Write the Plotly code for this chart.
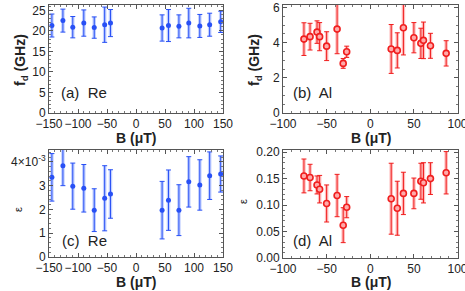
import plotly.graph_objects as go

# ---- data ----
re_B = [-145, -126, -109, -90, -72, -54, -44, 45, 56, 74, 91, 110, 127, 146]
re_fd = [21.3, 22.5, 20.9, 21.9, 20.8, 21.5, 21.9, 20.7, 21.3, 21.1, 21.9, 21.2, 21.5, 22.2]
re_fd_err = [2.8, 2.8, 2.6, 3.2, 2.6, 4.3, 3.3, 3.2, 3.9, 2.8, 3.6, 2.8, 2.8, 2.6]
re_eps = [3.35e-3, 3.84e-3, 2.98e-3, 2.89e-3, 1.97e-3, 2.47e-3, 2.65e-3,
          1.97e-3, 2.39e-3, 1.97e-3, 3.16e-3, 3.03e-3, 3.42e-3, 3.49e-3]
re_eps_err = [1.0e-3, 0.84e-3, 0.97e-3, 1.0e-3, 0.9e-3, 1.37e-3, 1.02e-3,
              1.21e-3, 1.27e-3, 1.07e-3, 1.06e-3, 1.06e-3, 1.0e-3, 0.76e-3]

al_B = [-76, -69, -61, -58, -50, -38, -31, -27, 24, 31, 38, 50, 58, 61, 69, 87]
al_fd = [4.2, 4.34, 4.6, 4.34, 3.8, 4.77, 2.82, 3.48, 3.64, 3.56, 4.85, 4.28, 3.96, 4.13, 3.82, 3.39]
al_fd_err = [0.93, 0.76, 0.64, 0.8, 0.82, 1.4, 0.28, 0.32, 1.39, 1.0, 1.55, 0.86, 0.86, 1.04, 0.71, 0.72]
al_eps = [0.155, 0.152, 0.138, 0.130, 0.103, 0.118, 0.062, 0.096,
          0.112, 0.094, 0.122, 0.122, 0.145, 0.142, 0.150, 0.161]
al_eps_err = [0.032, 0.025, 0.017, 0.026, 0.035, 0.040, 0.033, 0.020,
              0.067, 0.051, 0.040, 0.029, 0.034, 0.038, 0.030, 0.040]

re_x_ticks = [-150, -100, -50, 0, 50, 100, 150]
al_x_ticks = [-100, -50, 0, 50, 100]
re_fd_ticks = [0, 5, 10, 15, 20, 25]
al_fd_ticks = [0, 2, 4, 6]
re_eps_ticks = [0, 1e-3, 2e-3, 3e-3, 4e-3]
re_eps_ticktext = ["0", "1", "2", "3", "4×10<sup>-3</sup>"]
al_eps_ticks = [0, 0.05, 0.10, 0.15, 0.20]

panel_labels = ["(a)  Re", "(b)  Al", "(c)  Re", "(d)  Al"]

W, H = 465, 291
BLUE = "rgb(40,80,245)"
BLUE_L = "rgba(120,150,255,0.45)"
RED = "rgb(240,30,30)"
RED_L = "rgba(255,110,110,0.45)"

fig = go.Figure()

def add_series(x, y, err, xa, ya, blue):
    col = BLUE if blue else RED
    colL = BLUE_L if blue else RED_L
    # light wide band
    fig.add_trace(go.Scatter(x=x, y=y, mode="markers", xaxis=xa, yaxis=ya,
                             marker=dict(size=1, color="rgba(0,0,0,0)"),
                             error_y=dict(type="data", array=err, color=colL,
                                          thickness=3.5, width=0),
                             showlegend=False, hoverinfo="skip"))
    if blue:
        mk = dict(size=5, color=col, symbol="circle", line=dict(width=0))
    else:
        mk = dict(size=6, color="rgb(255,170,170)", symbol="circle",
                  line=dict(width=1.6, color=col))
    fig.add_trace(go.Scatter(x=x, y=y, mode="markers", xaxis=xa, yaxis=ya,
                             marker=mk,
                             error_y=dict(type="data", array=err, color=col,
                                          thickness=1, width=2.5),
                             showlegend=False))

add_series(re_B, re_fd, re_fd_err, "x", "y", True)
add_series(al_B, al_fd, al_fd_err, "x2", "y2", False)
add_series(re_B, re_eps, re_eps_err, "x3", "y3", True)
add_series(al_B, al_eps, al_eps_err, "x4", "y4", False)

def px_dom_x(a, b):
    return [a / W, b / W]

def px_dom_y(top, bot):
    return [1 - bot / H, 1 - top / H]

ax_common = dict(showline=True, linecolor="#555", linewidth=1, mirror="allticks",
                 ticks="inside", ticklen=4, tickcolor="#555", showgrid=False,
                 zeroline=False, tickangle=0, automargin=False,
                 ticklabeloverflow="allow",
                 tickfont=dict(family="Liberation Sans, Arial", size=12, color="#222"),
                 minor=dict(ticks="inside", ticklen=2, tickcolor="#777", showgrid=False))

lay = {}
lay["xaxis"] = dict(ax_common, domain=px_dom_x(49, 223), range=[-150, 150], anchor="y",
                    tickvals=re_x_ticks, minor=dict(ax_common["minor"], dtick=10))
lay["yaxis"] = dict(ax_common, domain=px_dom_y(5, 113), range=[0, 26.3], anchor="x",
                    tickvals=re_fd_ticks, minor=dict(ax_common["minor"], dtick=1))
lay["xaxis2"] = dict(ax_common, domain=px_dom_x(283, 457.5), range=[-100, 100], anchor="y2",
                     tickvals=al_x_ticks, minor=dict(ax_common["minor"], dtick=10))
lay["yaxis2"] = dict(ax_common, domain=px_dom_y(5, 113), range=[0, 6.14], anchor="x2",
                     tickvals=al_fd_ticks, minor=dict(ax_common["minor"], dtick=0.5))
lay["xaxis3"] = dict(ax_common, domain=px_dom_x(49, 223), range=[-150, 150], anchor="y3",
                     tickvals=re_x_ticks, minor=dict(ax_common["minor"], dtick=10))
lay["yaxis3"] = dict(ax_common, domain=px_dom_y(150, 257), range=[0, 4.5e-3], anchor="x3",
                     tickvals=re_eps_ticks, ticktext=re_eps_ticktext,
                     minor=dict(ax_common["minor"], dtick=0.2e-3))
lay["xaxis4"] = dict(ax_common, domain=px_dom_x(283, 457.5), range=[-100, 100], anchor="y4",
                     tickvals=al_x_ticks, minor=dict(ax_common["minor"], dtick=10))
lay["yaxis4"] = dict(ax_common, domain=px_dom_y(150, 258), range=[0, 0.204], anchor="x4",
                     tickvals=al_eps_ticks, tickformat=".2f",
                     minor=dict(ax_common["minor"], dtick=0.01))

def ann(text, x, y, size=14, angle=0, bold=False):
    t = f"<b>{text}</b>" if bold else text
    return dict(text=t, x=x / W, y=1 - y / H, xref="paper", yref="paper",
                showarrow=False, textangle=angle, xanchor="center", yanchor="middle",
                font=dict(family="Liberation Sans, Arial", size=size, color="#222"))

annotations = [
    ann("B (μT)", 136, 138, 14, bold=True),
    ann("B (μT)", 371, 138, 14, bold=True),
    ann("B (μT)", 136, 282, 14, bold=True),
    ann("B (μT)", 371, 282, 14, bold=True),
    ann("f<sub>d</sub> (GHz)", 21, 60, 14, angle=-90, bold=True),
    ann("f<sub>d</sub> (GHz)", 255, 60, 14, angle=-90, bold=True),
    ann("ε", 18, 210, 11, angle=-90),
    ann("ε", 243, 202, 11, angle=-90),
    ann(panel_labels[0], 84, 92, 15),
    ann(panel_labels[1], 312, 92, 15),
    ann(panel_labels[2], 84, 240, 15),
    ann(panel_labels[3], 312, 240, 15),
]

fig.update_layout(width=W, height=H, margin=dict(l=0, r=0, t=0, b=0),
                  paper_bgcolor="white", plot_bgcolor="white",
                  annotations=annotations, showlegend=False, **lay)

fig.write_html("out.html", config={"displayModeBar": False, "staticPlot": True},
               post_script="document.body.style.margin='0';document.body.style.overflow='hidden';")
